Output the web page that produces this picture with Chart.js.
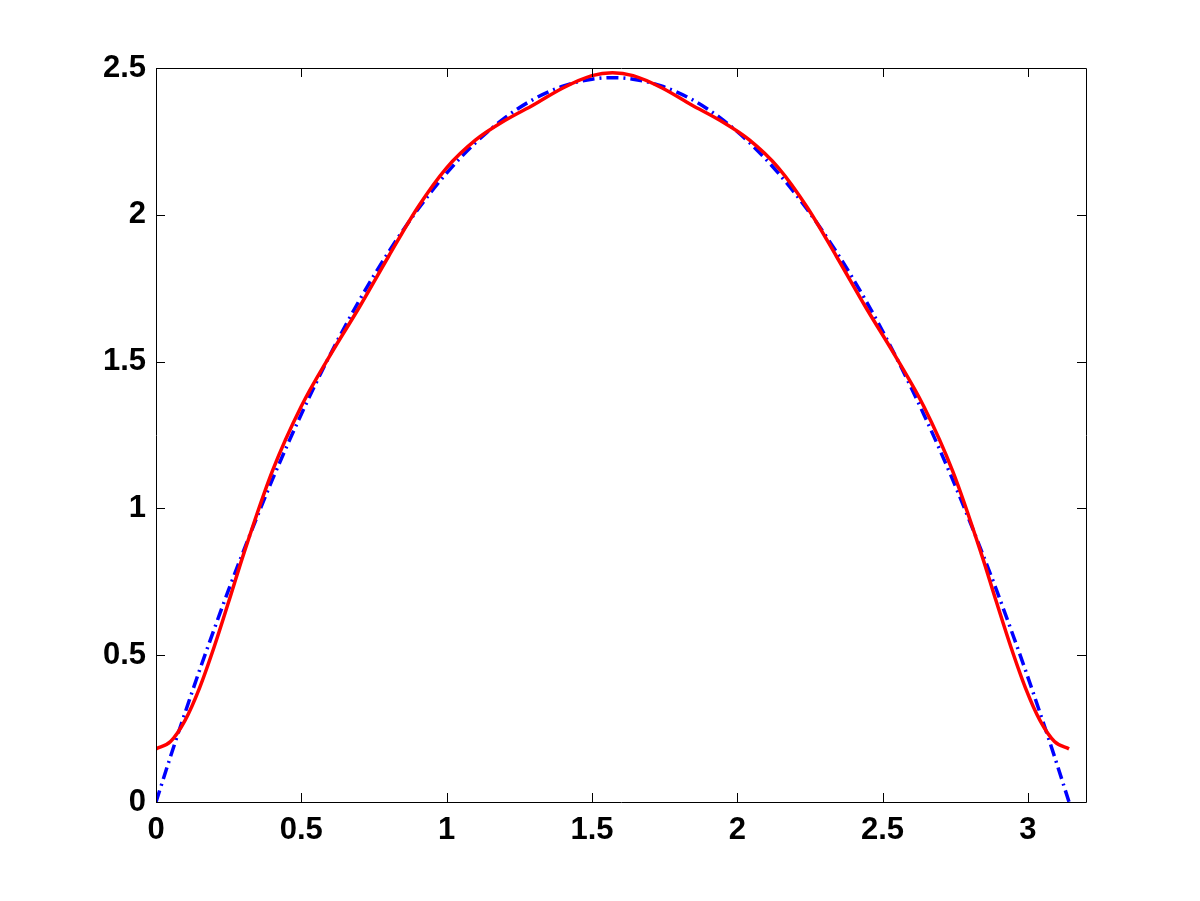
<!DOCTYPE html>
<html>
<head>
<meta charset="utf-8">
<script src="https://cdn.jsdelivr.net/npm/chart.js@4/dist/chart.umd.min.js"></script>
<style>
  html, body { margin: 0; padding: 0; background: #fff; }
  #wrap { width: 1200px; height: 901px; }
</style>
</head>
<body>
<div id="wrap"><canvas id="plot" width="1200" height="901"></canvas></div>
<script>
// x positions (symmetric around pi/2, denser near the ends)
const xVals = [0, 0.05, 0.1, 0.15, 0.2, 0.25, 0.3, 0.4, 0.5, 0.6, 0.7, 0.8, 0.9, 1.0, 1.1, 1.2,
    1.3, 1.4, 1.5,
    1.5708,
    1.6416, 1.7416, 1.8416, 1.9416, 2.0416, 2.1416, 2.2416, 2.3416, 2.4416, 2.5416, 2.6416,
    2.7416, 2.8416, 2.8916, 2.9416, 2.9916, 3.0416, 3.0916, 3.1416];

// blue dash-dot curve
const blueVals = [0, 0.155, 0.304, 0.449, 0.588, 0.723, 0.852, 1.097, 1.321, 1.525, 1.709,
    1.873, 2.017, 2.142, 2.246, 2.330, 2.394, 2.438, 2.462,
    2.467,
    2.462, 2.438, 2.394, 2.330, 2.246, 2.142, 2.017, 1.873, 1.709, 1.525, 1.321, 1.097,
    0.852, 0.723, 0.588, 0.449, 0.304, 0.155, 0];

// red solid curve
const redVals = [0.181, 0.206, 0.278, 0.389, 0.528, 0.682, 0.840, 1.126, 1.348, 1.523, 1.686,
    1.858, 2.024, 2.160, 2.255, 2.321, 2.375, 2.432, 2.474,
    2.484,
    2.474, 2.432, 2.375, 2.321, 2.255, 2.160, 2.024, 1.858, 1.686, 1.523, 1.348, 1.126,
    0.840, 0.682, 0.528, 0.389, 0.278, 0.206, 0.181];

const xTicks = [0, 0.5, 1, 1.5, 2, 2.5, 3];
const yTicks = [0, 0.5, 1, 1.5, 2, 2.5];

const toPoints = (ys) => xVals.map((x, i) => ({ x: x, y: ys[i] }));

// box around the axes with inward tick marks on all four sides
const boxPlugin = {
    id: 'box',
    afterDatasetsDraw(chart) {
        const ctx = chart.ctx;
        const a = chart.chartArea;
        const sx = chart.scales.x, sy = chart.scales.y;
        const len = 9;
        ctx.save();
        ctx.strokeStyle = '#000';
        ctx.lineWidth = 1;
        ctx.beginPath();
        ctx.rect(Math.round(a.left) + 0.5, Math.round(a.top) + 0.5,
                 Math.round(a.right - a.left), Math.round(a.bottom - a.top));
        xTicks.forEach(v => {
            const px = Math.round(sx.getPixelForValue(v)) + 0.5;
            ctx.moveTo(px, a.bottom); ctx.lineTo(px, a.bottom - len);
            ctx.moveTo(px, a.top); ctx.lineTo(px, a.top + len);
        });
        yTicks.forEach(v => {
            const py = Math.round(sy.getPixelForValue(v)) + 0.5;
            ctx.moveTo(a.left, py); ctx.lineTo(a.left + len, py);
            ctx.moveTo(a.right, py); ctx.lineTo(a.right - len, py);
        });
        ctx.stroke();
        ctx.restore();
    }
};

const tickFont = { family: "'Liberation Sans', Arial, sans-serif", size: 31, weight: 'bold' };

new Chart(document.getElementById('plot').getContext('2d'), {
    type: 'line',
    data: {
        datasets: [
            {
                label: 'red',
                data: toPoints(redVals),
                borderColor: '#ff0000',
                borderWidth: 3.5,
                pointRadius: 0,
                cubicInterpolationMode: 'monotone',
                order: 0
            },
            {
                label: 'blue',
                data: toPoints(blueVals),
                borderColor: '#0000ff',
                borderWidth: 3.5,
                borderDash: [12, 5, 2, 5],
                pointRadius: 0,
                cubicInterpolationMode: 'monotone',
                order: 1
            }
        ]
    },
    options: {
        responsive: false,
        animation: false,
        layout: { padding: { left: 0, right: 114, top: 68, bottom: 0 } },
        plugins: { legend: { display: false }, tooltip: { enabled: false } },
        scales: {
            x: {
                type: 'linear',
                min: 0,
                max: 3.2,
                border: { display: false },
                grid: { display: false, drawTicks: false },
                afterFit: (s) => { s.height = 99; },
                afterBuildTicks: (s) => { s.ticks = xTicks.map(v => ({ value: v })); },
                ticks: {
                    color: '#000',
                    font: tickFont,
                    padding: 10,
                    maxRotation: 0,
                    callback: (v) => String(v)
                }
            },
            y: {
                type: 'linear',
                min: 0,
                max: 2.5,
                border: { display: false },
                grid: { display: false, drawTicks: false },
                afterFit: (s) => { s.width = 156; },
                afterBuildTicks: (s) => { s.ticks = yTicks.map(v => ({ value: v })); },
                ticks: {
                    color: '#000',
                    font: tickFont,
                    padding: 10,
                    callback: (v) => String(v)
                }
            }
        }
    },
    plugins: [boxPlugin]
});
</script>
</body>
</html>
